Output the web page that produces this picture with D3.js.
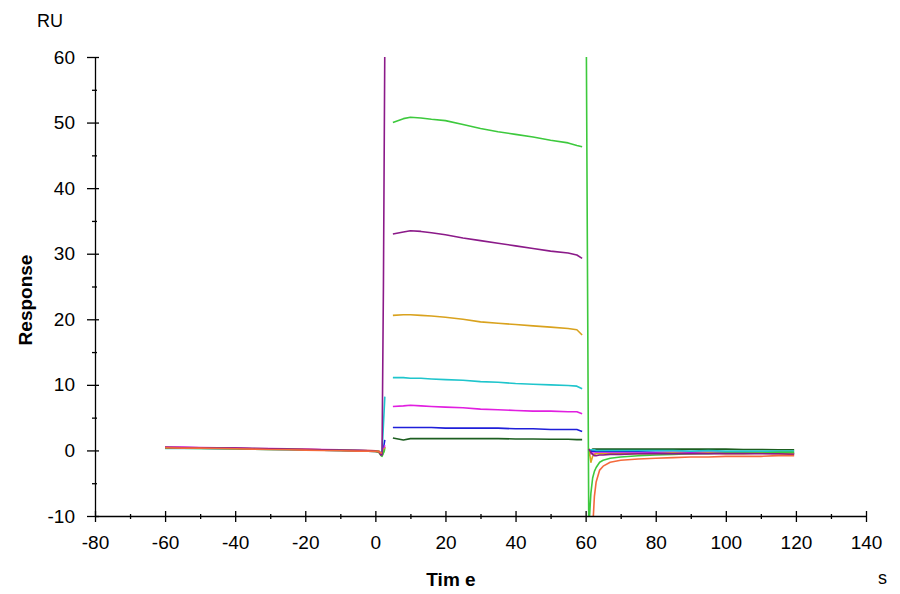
<!DOCTYPE html>
<html><head><meta charset="utf-8">
<script src="https://cdn.jsdelivr.net/npm/d3@7"></script>
<style>
html,body{margin:0;padding:0;background:#fff;}
svg{display:block;}
text{font-family:Arial,"Liberation Sans",sans-serif;fill:#000;}
</style></head>
<body><svg id="c" width="900" height="594"></svg>
<script>
// ---- data ----
const xTicks = [-80,-60,-40,-20,0,20,40,60,80,100,120,140];
const xMinor = [-70,-50,-30,-10,10,30,50,70,90,110,130];
const yTicks = [-10,0,10,20,30,40,50,60];
const yMinor = [-5,5,15,25,35,45,55];

const baseTimes  = [-60,-55,-50,-45,-40,-35,-30,-25,-20,-15,-10,-5,-2,0,1,1.6];
const injTimes   = [1.9,2.3,2.7];
const assocTimes = [5,8,10,13,16,20,25,30,35,40,45,50,55,57.5,59];
const dissTimes  = [60.2,60.9,61.5,62,62.5,63,64,65,67,70,75,80,85,90,95,100,105,110,115,119.5];

const seriesNames = ["darkgreen","blue","magenta","cyan","gold","green","purple","red"];
const seriesColors = ["#1d5e20","#1f1fd9","#e11fe0","#1fc5cc","#d9a21e","#3dc93d","#8b1a89","#f46a3c"];

const baseVals = {
  darkgreen:[0.5,0.45,0.4,0.35,0.3,0.3,0.25,0.2,0.15,0.1,0.05,0.0,-0.05,-0.1,-0.2,-0.6],
  blue:     [0.4,0.4,0.35,0.3,0.3,0.25,0.2,0.15,0.1,0.05,0.0,-0.05,-0.1,-0.15,-0.2,-0.5],
  magenta:  [0.5,0.5,0.45,0.4,0.35,0.3,0.3,0.25,0.2,0.15,0.1,0.05,0.0,-0.05,-0.1,-0.4],
  cyan:     [0.3,0.3,0.3,0.25,0.25,0.2,0.15,0.1,0.1,0.05,0.0,0.0,-0.05,-0.1,-0.15,-0.4],
  gold:     [0.45,0.4,0.4,0.35,0.3,0.25,0.2,0.2,0.15,0.1,0.05,0.0,0.0,-0.05,-0.1,-0.5],
  green:    [0.35,0.35,0.3,0.3,0.25,0.2,0.15,0.15,0.1,0.05,0.0,-0.05,-0.1,-0.15,-0.3,-0.8],
  purple:   [0.45,0.4,0.4,0.35,0.35,0.3,0.25,0.2,0.15,0.1,0.05,0.0,-0.05,-0.1,-0.2,-0.7],
  red:      [0.4,0.35,0.35,0.3,0.25,0.2,0.15,0.1,0.05,0.0,-0.05,-0.1,-0.1,-0.15,-0.2,-0.4]
};
const injVals = {
  darkgreen:[-0.7,-0.3,0.5],
  blue:     [-0.5,0.3,1.6],
  magenta:  [-0.5,0.0,0.8],
  cyan:     [-0.4,3.9,8.2],
  gold:     [-0.6,-0.2,0.4],
  green:    [-0.9,-0.4,0.2],
  purple:   [-0.7,25,62],
  red:      [-0.4,null,null]
};
const assocVals = {
  darkgreen:[1.9,1.6,1.8,1.8,1.8,1.8,1.8,1.8,1.8,1.75,1.75,1.7,1.7,1.65,1.65],
  blue:     [3.5,3.5,3.5,3.5,3.5,3.4,3.4,3.4,3.4,3.3,3.3,3.2,3.2,3.2,2.9],
  magenta:  [6.7,6.8,6.9,6.8,6.7,6.6,6.5,6.3,6.2,6.1,6.0,6.0,5.9,5.9,5.6],
  cyan:     [11.1,11.1,11.0,11.0,10.9,10.8,10.7,10.5,10.4,10.2,10.1,10.0,9.9,9.8,9.4],
  gold:     [20.6,20.7,20.7,20.6,20.5,20.3,20.0,19.6,19.4,19.2,19.0,18.8,18.6,18.4,17.6],
  green:    [50.0,50.6,50.8,50.7,50.5,50.3,49.7,49.1,48.6,48.2,47.8,47.3,46.9,46.5,46.3],
  purple:   [33.0,33.3,33.5,33.4,33.2,32.9,32.4,32.0,31.6,31.2,30.8,30.4,30.1,29.8,29.3],
  red:      [null,null,null,null,null,null,null,null,null,null,null,null,null,null,null]
};
const dissVals = {
  darkgreen:[null,-0.8,0.0,0.2,0.2,0.2,0.2,0.2,0.2,0.2,0.2,0.2,0.2,0.2,0.2,0.2,0.15,0.15,0.1,0.1],
  blue:     [null,-0.2,-0.1,-0.1,-0.1,-0.2,-0.2,-0.2,-0.2,-0.2,-0.2,-0.3,-0.3,-0.3,-0.3,-0.3,-0.3,-0.3,-0.3,-0.4],
  magenta:  [null,-0.4,-0.5,-0.4,-0.4,-0.4,-0.4,-0.4,-0.4,-0.4,-0.4,-0.4,-0.4,-0.4,-0.4,-0.4,-0.4,-0.4,-0.5,-0.5],
  cyan:     [null,0.0,0.1,0.1,0.1,0.0,0.0,0.0,0.0,0.0,0.0,0.0,0.0,-0.1,0.0,-0.1,-0.1,-0.1,-0.1,-0.1],
  gold:     [null,0.3,-1.8,-0.9,-0.6,-0.5,-0.5,-0.5,-0.5,-0.5,-0.5,-0.5,-0.4,-0.5,-0.4,-0.5,-0.5,-0.4,-0.5,-0.5],
  green:    [62,-12,-6.5,-4.2,-3.2,-2.6,-1.8,-1.5,-1.2,-1.0,-0.8,-0.7,-0.6,-0.5,-0.5,-0.4,-0.4,-0.4,-0.3,-0.3],
  purple:   [null,0.2,-0.3,-0.6,-0.8,-0.8,-0.7,-0.7,-0.6,-0.6,-0.5,-0.5,-0.5,-0.5,-0.5,-0.5,-0.5,-0.5,-0.5,-0.6],
  red:      [null,null,null,-12,-7,-4.8,-3.0,-2.4,-1.8,-1.5,-1.3,-1.2,-1.1,-1.0,-1.0,-0.9,-0.9,-0.9,-0.8,-0.8]
};

// ---- chart ----
const svg = d3.select("#c");
const x = d3.scaleLinear().domain([-80,140]).range([95,866]);
const y = d3.scaleLinear().domain([-10,60]).range([516,57]);

svg.append("defs").append("clipPath").attr("id","plot")
  .append("rect").attr("x",95).attr("y",57).attr("width",771).attr("height",459);

const line = d3.line().defined(d => d[1] != null).x(d => x(d[0])).y(d => y(d[1]));

const gLines = svg.append("g").attr("clip-path","url(#plot)");
seriesNames.forEach((name,i) => {
  const pts = [];
  baseTimes.forEach((t,j) => pts.push([t, baseVals[name][j]]));
  injTimes.forEach((t,j) => pts.push([t, injVals[name][j]]));
  pts.push([3.5, null]);
  assocTimes.forEach((t,j) => pts.push([t, assocVals[name][j]]));
  pts.push([59.8, null]);
  dissTimes.forEach((t,j) => pts.push([t, dissVals[name][j]]));
  gLines.append("path").datum(pts)
    .attr("fill","none").attr("stroke",seriesColors[i])
    .attr("stroke-width",1.6).attr("stroke-linejoin","round")
    .attr("d",line);
});

const fmt = d => String(d);

// axes
const yAx = svg.append("g").attr("transform","translate(95,0)")
  .call(d3.axisLeft(y).tickValues(yTicks).tickFormat(fmt).tickSizeOuter(0).tickPadding(14));
yAx.selectAll(".tick line").attr("x1",4).attr("x2",-8);
yAx.selectAll("text").style("font-size","19px");
const yAxM = svg.append("g").attr("transform","translate(95,0)")
  .call(d3.axisLeft(y).tickValues(yMinor).tickSizeOuter(0).tickFormat(""));
yAxM.selectAll(".tick line").attr("x1",2).attr("x2",-3);
yAxM.select(".domain").remove();

const xAx = svg.append("g").attr("transform","translate(0,516)")
  .call(d3.axisBottom(x).tickValues(xTicks).tickFormat(fmt).tickSizeOuter(0).tickPadding(14));
xAx.selectAll(".tick line").attr("y1",-5).attr("y2",6);
xAx.selectAll("text").style("font-size","19px");
const xAxM = svg.append("g").attr("transform","translate(0,516)")
  .call(d3.axisBottom(x).tickValues(xMinor).tickSizeOuter(0).tickFormat(""));
xAxM.selectAll(".tick line").attr("y1",-2).attr("y2",3);
xAxM.select(".domain").remove();
svg.selectAll(".domain, .tick line").attr("stroke","#000").attr("stroke-width",1.3);

// titles
svg.append("text").attr("x",37).attr("y",27).style("font-size","18px").text("RU");
svg.append("text").attr("transform","translate(32,300) rotate(-90)")
  .attr("text-anchor","middle").style("font-size","19px").style("font-weight","bold").text("Response");
svg.append("text").attr("x",451).attr("y",586).attr("text-anchor","middle")
  .style("font-size","19px").style("font-weight","bold").text("Tim e");
svg.append("text").attr("x",878).attr("y",584).style("font-size","18px").text("s");
</script></body></html>
